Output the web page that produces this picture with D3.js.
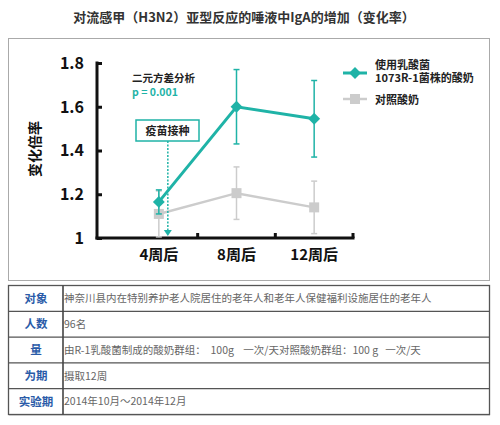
<!DOCTYPE html>
<html>
<head>
<meta charset="utf-8">
<script src="https://cdn.jsdelivr.net/npm/d3@7"></script>
<style>
  body { margin: 0; background: #fff; }
  svg { display: block; font-family: "Noto Sans CJK SC", "Noto Sans", sans-serif; }
</style>
</head>
<body>
<div class="chart"></div>
<script>
// chart data
const weeks = ['4周后', '8周后', '12周后'];
const r1Mean = [1.165, 1.60, 1.545];
const r1Err = [0.055, 0.17, 0.175];
const ctrlMean = [1.11, 1.205, 1.14];
const ctrlErr = [0.105, 0.12, 0.12];
const yTicks = [1, 1.2, 1.4, 1.6, 1.8];
const seriesNames = ['使用乳酸菌\n1073R-1菌株的酸奶', '对照酸奶'];

// table data
const rowLabels = ['对象', '人数', '量', '为期', '实验期'];
const rowTexts = [
    '神奈川县内在特别养护老人院居住的老年人和老年人保健福利设施居住的老年人',
    '96名',
    '由R-1乳酸菌制成的酸奶群组：  100g    一次/天对照酸奶群组：100 g   一次/天',
    '摄取12周',
    '2014年10月～2014年12月'
];

const teal = '#1fb3a7';
const grey = '#cccccc';

const width = 500;
const height = 425;
const svg = d3.select('.chart')
    .append('svg')
    .attr('width', width)
    .attr('height', height);

//title
svg.append('text')
    .attr('x', 244)
    .attr('y', 22)
    .attr('text-anchor', 'middle')
    .attr('font-size', 13)
    .attr('font-weight', 700)
    .attr('fill', '#333')
    .text('对流感甲（H3N2）亚型反应的唾液中IgA的增加（变化率）');

//chart frame
svg.append('rect')
    .attr('x', 8.5).attr('y', 38.5)
    .attr('width', 481).attr('height', 242)
    .attr('fill', '#fff')
    .attr('stroke', '#aaa');

//scales
const x = d3.scaleBand().domain(weeks).range([120, 353]);
const y = d3.scaleLinear().domain([1, 1.8]).range([238, 63]);
const cx = d => x(d) + x.bandwidth() / 2;

//y axis
const yAxis = svg.append('g')
    .attr('transform', 'translate(97,0)')
    .call(d3.axisRight(y).tickValues(yTicks).tickSize(5).tickFormat(''));
yAxis.select('.domain').remove();
yAxis.selectAll('line').attr('stroke', '#111').attr('stroke-width', 3);
svg.append('line')
    .attr('x1', 97).attr('x2', 97)
    .attr('y1', y(1.8) - 1.5).attr('y2', y(1) + 1.5)
    .attr('stroke', '#111').attr('stroke-width', 3);

svg.selectAll('text.ytick')
    .data(yTicks)
    .enter()
    .append('text')
    .attr('class', 'ytick')
    .attr('x', 84)
    .attr('y', d => y(d))
    .attr('dy', '0.36em')
    .attr('text-anchor', 'end')
    .attr('font-size', 16)
    .attr('font-weight', 700)
    .attr('fill', '#111')
    .text(d => d === 1 ? '1' : d.toFixed(1));

//x axis
svg.append('line')
    .attr('x1', 95.5).attr('x2', 354.5)
    .attr('y1', y(1)).attr('y2', y(1))
    .attr('stroke', '#111').attr('stroke-width', 3);
svg.selectAll('line.xtick')
    .data(weeks)
    .enter()
    .append('line')
    .attr('class', 'xtick')
    .attr('x1', d => x(d) + x.bandwidth())
    .attr('x2', d => x(d) + x.bandwidth())
    .attr('y1', y(1))
    .attr('y2', y(1) - 5)
    .attr('stroke', '#111').attr('stroke-width', 3);
svg.selectAll('text.xlabel')
    .data(weeks)
    .enter()
    .append('text')
    .attr('class', 'xlabel')
    .attr('x', d => cx(d))
    .attr('y', 260)
    .attr('text-anchor', 'middle')
    .attr('font-size', 15)
    .attr('font-weight', 700)
    .attr('fill', '#111')
    .text(d => d);

//y label
svg.append('text')
    .attr('transform', 'translate(40,149) rotate(-90)')
    .attr('text-anchor', 'middle')
    .attr('font-size', 14)
    .attr('font-weight', 700)
    .attr('fill', '#111')
    .text('变化倍率');

//draws a series with error bars
function drawSeries(means, errs, color, lineWidth) {
    const g = svg.append('g');
    const pts = weeks.map((w, i) => ({ w: w, m: means[i], e: errs[i] }));
    g.selectAll('line.err')
        .data(pts)
        .enter()
        .append('line')
        .attr('x1', d => cx(d.w)).attr('x2', d => cx(d.w))
        .attr('y1', d => y(d.m - d.e)).attr('y2', d => y(d.m + d.e))
        .attr('stroke', color).attr('stroke-width', 1.5);
    [1, -1].forEach(s => {
        g.selectAll('line.cap' + s)
            .data(pts)
            .enter()
            .append('line')
            .attr('x1', d => cx(d.w) - 3).attr('x2', d => cx(d.w) + 3)
            .attr('y1', d => y(d.m + s * d.e)).attr('y2', d => y(d.m + s * d.e))
            .attr('stroke', color).attr('stroke-width', 1.5);
    });
    g.append('path')
        .datum(pts)
        .attr('fill', 'none')
        .attr('stroke', color)
        .attr('stroke-width', lineWidth)
        .attr('d', d3.line().x(d => cx(d.w)).y(d => y(d.m)));
    return { g: g, pts: pts };
}

const ctrl = drawSeries(ctrlMean, ctrlErr, grey, 2.5);
ctrl.g.selectAll('rect')
    .data(ctrl.pts)
    .enter()
    .append('rect')
    .attr('x', d => cx(d.w) - 5)
    .attr('y', d => y(d.m) - 5)
    .attr('width', 10).attr('height', 10)
    .attr('fill', grey);

const r1 = drawSeries(r1Mean, r1Err, teal, 3);
r1.g.selectAll('path.marker')
    .data(r1.pts)
    .enter()
    .append('path')
    .attr('class', 'marker')
    .attr('transform', d => `translate(${cx(d.w)},${y(d.m)})`)
    .attr('d', d3.symbol().type(d3.symbolDiamond2).size(90))
    .attr('fill', teal);

//annotations
svg.append('text')
    .attr('x', 132).attr('y', 82)
    .attr('font-size', 10.5).attr('font-weight', 700).attr('fill', '#222')
    .text('二元方差分析');
svg.append('text')
    .attr('x', 132).attr('y', 96)
    .attr('font-size', 10.5).attr('font-weight', 700).attr('fill', teal)
    .text('p = 0.001');

const arrowX = cx(weeks[0]) + 9;
svg.append('rect')
    .attr('x', 136).attr('y', 120)
    .attr('width', 63).attr('height', 21)
    .attr('fill', '#fff')
    .attr('stroke', teal).attr('stroke-width', 1.5);
svg.append('text')
    .attr('x', 167.5).attr('y', 134.5)
    .attr('text-anchor', 'middle')
    .attr('font-size', 11).attr('font-weight', 700).attr('fill', '#222')
    .text('疫苗接种');
svg.append('line')
    .attr('x1', arrowX).attr('x2', arrowX)
    .attr('y1', 141).attr('y2', 231)
    .attr('stroke', teal).attr('stroke-width', 1.5)
    .attr('stroke-dasharray', '2,1.5');
svg.append('path')
    .attr('d', `M${arrowX - 4},230 L${arrowX + 4},230 L${arrowX},236 Z`)
    .attr('fill', teal);

//legend
const legend = svg.append('g');
legend.append('line')
    .attr('x1', 343).attr('x2', 367).attr('y1', 73).attr('y2', 73)
    .attr('stroke', teal).attr('stroke-width', 3);
legend.append('path')
    .attr('transform', 'translate(355,73)')
    .attr('d', d3.symbol().type(d3.symbolDiamond2).size(90))
    .attr('fill', teal);
legend.append('line')
    .attr('x1', 343).attr('x2', 367).attr('y1', 99).attr('y2', 99)
    .attr('stroke', grey).attr('stroke-width', 2.5);
legend.append('rect')
    .attr('x', 350).attr('y', 94).attr('width', 10).attr('height', 10)
    .attr('fill', grey);
seriesNames.forEach((name, i) => {
    name.split('\n').forEach((line, j) => {
        legend.append('text')
            .attr('x', 375)
            .attr('y', (i === 0 ? 69 : 104) + j * 12.5)
            .attr('font-size', 11).attr('font-weight', 700).attr('fill', '#222')
            .text(line);
    });
});

//table
const tableTop = 285.5;
const rowH = 25.8;
const tbl = svg.append('g');
tbl.append('rect')
    .attr('x', 9).attr('y', tableTop + 1)
    .attr('width', 481).attr('height', rowH * rowLabels.length)
    .attr('fill', '#bbb');
tbl.append('rect')
    .attr('x', 8.5).attr('y', tableTop)
    .attr('width', 481).attr('height', rowH * rowLabels.length)
    .attr('fill', '#fff')
    .attr('stroke', '#555').attr('stroke-width', 1.3);
tbl.selectAll('line.row')
    .data(rowLabels.slice(1))
    .enter()
    .append('line')
    .attr('x1', 8.5).attr('x2', 489.5)
    .attr('y1', (d, i) => tableTop + (i + 1) * rowH)
    .attr('y2', (d, i) => tableTop + (i + 1) * rowH)
    .attr('stroke', '#555').attr('stroke-width', 1.3);
tbl.append('line')
    .attr('x1', 63).attr('x2', 63)
    .attr('y1', tableTop).attr('y2', tableTop + rowH * rowLabels.length)
    .attr('stroke', '#444').attr('stroke-width', 1.6);
tbl.selectAll('text.label')
    .data(rowLabels)
    .enter()
    .append('text')
    .attr('x', 36)
    .attr('y', (d, i) => tableTop + i * rowH + rowH / 2)
    .attr('dy', '0.36em')
    .attr('text-anchor', 'middle')
    .attr('font-size', 11.5).attr('font-weight', 700).attr('fill', '#2a5ba8')
    .text(d => d);
tbl.selectAll('text.content')
    .data(rowTexts)
    .enter()
    .append('text')
    .attr('x', 64)
    .attr('y', (d, i) => tableTop + i * rowH + rowH / 2)
    .attr('dy', '0.36em')
    .attr('font-size', 10.5).attr('fill', '#666')
    .style('white-space', 'pre')
    .text(d => d);
</script>
</body>
</html>
